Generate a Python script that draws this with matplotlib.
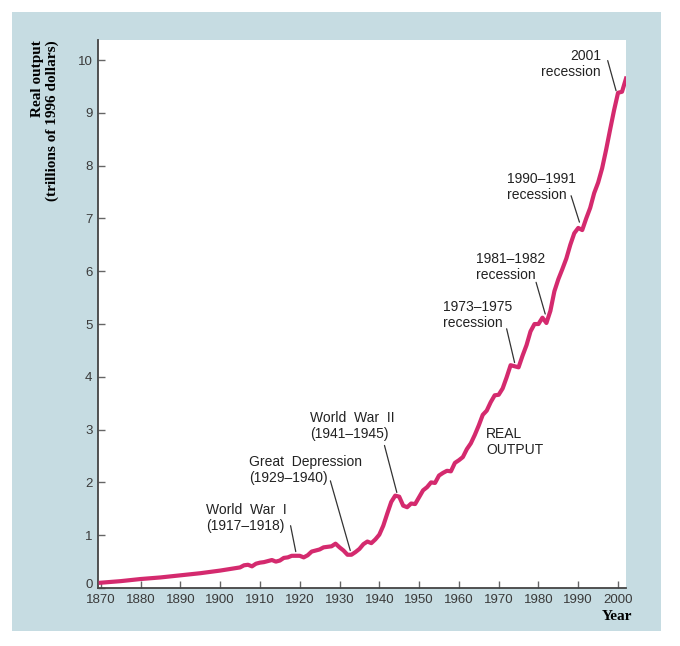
import numpy as np
import matplotlib
matplotlib.use("Agg")
import matplotlib.pyplot as plt
from matplotlib.patches import Rectangle
from matplotlib.transforms import ScaledTranslation

# real output, trillions of 1996 dollars
years = [1870, 1875, 1880, 1885, 1890, 1895, 1900, 1905, 1906, 1907, 1908, 1909,
         1910, 1911, 1912, 1913, 1914, 1915, 1916, 1917, 1918, 1919, 1920, 1921,
         1922, 1923, 1924, 1925, 1926, 1927, 1928, 1929, 1930, 1931, 1932, 1933,
         1934, 1935, 1936, 1937, 1938, 1939, 1940, 1941, 1942, 1943, 1944, 1945,
         1946, 1947, 1948, 1949, 1950, 1951, 1952, 1953, 1954, 1955, 1956, 1957,
         1958, 1959, 1960, 1961, 1962, 1963, 1964, 1965, 1966, 1967, 1968, 1969,
         1970, 1971, 1972, 1973, 1974, 1975, 1976, 1977, 1978, 1979, 1980, 1981,
         1982, 1983, 1984, 1985, 1986, 1987, 1988, 1989, 1990, 1991, 1992, 1993,
         1994, 1995, 1996, 1997, 1998, 1999, 2000, 2001, 2002]
output = [0.10, 0.13, 0.17, 0.20, 0.24, 0.28, 0.33, 0.39, 0.43, 0.44, 0.41, 0.46,
          0.48, 0.49, 0.51, 0.53, 0.50, 0.52, 0.57, 0.58, 0.61, 0.61, 0.61, 0.58,
          0.62, 0.69, 0.71, 0.73, 0.77, 0.78, 0.79, 0.84, 0.77, 0.71, 0.63, 0.63,
          0.68, 0.74, 0.83, 0.88, 0.85, 0.92, 1.01, 1.18, 1.41, 1.63, 1.75, 1.73,
          1.56, 1.53, 1.60, 1.59, 1.72, 1.85, 1.91, 2.00, 1.99, 2.13, 2.18, 2.22,
          2.21, 2.37, 2.42, 2.48, 2.63, 2.74, 2.90, 3.08, 3.28, 3.36, 3.52, 3.65,
          3.66, 3.78, 3.99, 4.22, 4.20, 4.18, 4.40, 4.60, 4.86, 5.00, 5.00, 5.12,
          5.02, 5.25, 5.62, 5.85, 6.04, 6.24, 6.50, 6.72, 6.82, 6.78, 7.00, 7.20,
          7.48, 7.68, 7.95, 8.30, 8.68, 9.05, 9.38, 9.40, 9.65]

xticks = list(range(1870, 2001, 10))
yticks = list(range(0, 11))

# event labels: text, text anchor, pointer start, pointer end
events = ["World  War  I\n(1917\u20131918)",
          "Great  Depression\n(1929\u20131940)",
          "World  War  II\n(1941\u20131945)",
          "1973\u20131975\nrecession",
          "1981\u20131982\nrecession",
          "1990\u20131991\nrecession",
          "2001\nrecession"]
text_xy = [(1896.5, 1.61), (1907.2, 2.52), (1922.5, 3.35), (1955.9, 5.45),
           (1964.2, 6.36), (1972.0, 7.88), (1995.7, 10.21)]
line_from = [(1917.7, 1.18), (1927.7, 2.03), (1941.3, 2.70), (1972.0, 4.91),
             (1979.4, 5.79), (1988.2, 7.43), (1997.4, 9.99)]
line_to = [(1919.0, 0.69), (1932.7, 0.71), (1944.4, 1.81), (1974.0, 4.27),
           (1981.7, 5.19), (1990.3, 6.93), (1999.5, 9.42)]

line_col = "#d42a6e"
panel_col = "#c6dce2"
sans = ["Liberation Sans", "DejaVu Sans"]
serif = ["Liberation Serif", "DejaVu Serif"]

fig = plt.figure(figsize=(6.8, 6.46), dpi=100)
fig.patches.append(Rectangle((12/680, 1-631/646), (661-12)/680, (631-12)/646,
                             transform=fig.transFigure, facecolor=panel_col,
                             edgecolor="none", zorder=-10))

ax = fig.add_axes([98/680, 1-588/646, 528/680, 548/646])
ax.set_zorder(1)
ax.set_facecolor("white")
ax.plot(years, output, color=line_col, linewidth=3, solid_joinstyle="round",
        zorder=3)

ax.set_xlim(1869.3, 2002)
ax.set_ylim(0, 10.38)
ax.set_xticks(xticks)
ax.set_yticks(yticks)
for s in ["top", "right"]:
    ax.spines[s].set_visible(False)
for s in ["left", "bottom"]:
    ax.spines[s].set_color("#444444")
    ax.spines[s].set_linewidth(1.3)
ax.tick_params(direction="in", length=5, width=1, color="#666666",
               labelcolor="#3a3a3a", labelsize=9.5)
ax.tick_params(axis="x", pad=4)
ax.tick_params(axis="y", pad=4)
for lab in ax.get_xticklabels() + ax.get_yticklabels():
    lab.set_family(sans)

# zero label sits a little higher than its tick
t0 = ax.yaxis.get_major_ticks()[0]
t0.label1.set_transform(t0.label1.get_transform() +
                        ScaledTranslation(0, 0.05, fig.dpi_scale_trans))

for i, txt in enumerate(events):
    ha = "right" if i == len(events) - 1 else "left"
    ax.text(text_xy[i][0], text_xy[i][1], txt, ha=ha, va="top",
            multialignment=ha, fontsize=10, family=sans, color="#222222",
            linespacing=1.15)
    ax.annotate("", xy=line_to[i], xytext=line_from[i],
                arrowprops=dict(arrowstyle="-", color="#333333", lw=0.9,
                                shrinkA=0, shrinkB=0))

ax.text(1966.9, 3.05, "REAL\nOUTPUT", ha="left", va="top", fontsize=10,
        family=sans, color="#222222", linespacing=1.15)

fig.text(45/680, 1-40/646, "Real output\n(trillions of 1996 dollars)",
         rotation=90, ha="center", va="top", multialignment="right",
         fontsize=11, fontweight="bold", family=serif)
fig.text(632/680, 1-617/646, "Year", ha="right", va="center",
         fontsize=11, fontweight="bold", family=serif)

fig.savefig("out.png", dpi=100, facecolor="white")
